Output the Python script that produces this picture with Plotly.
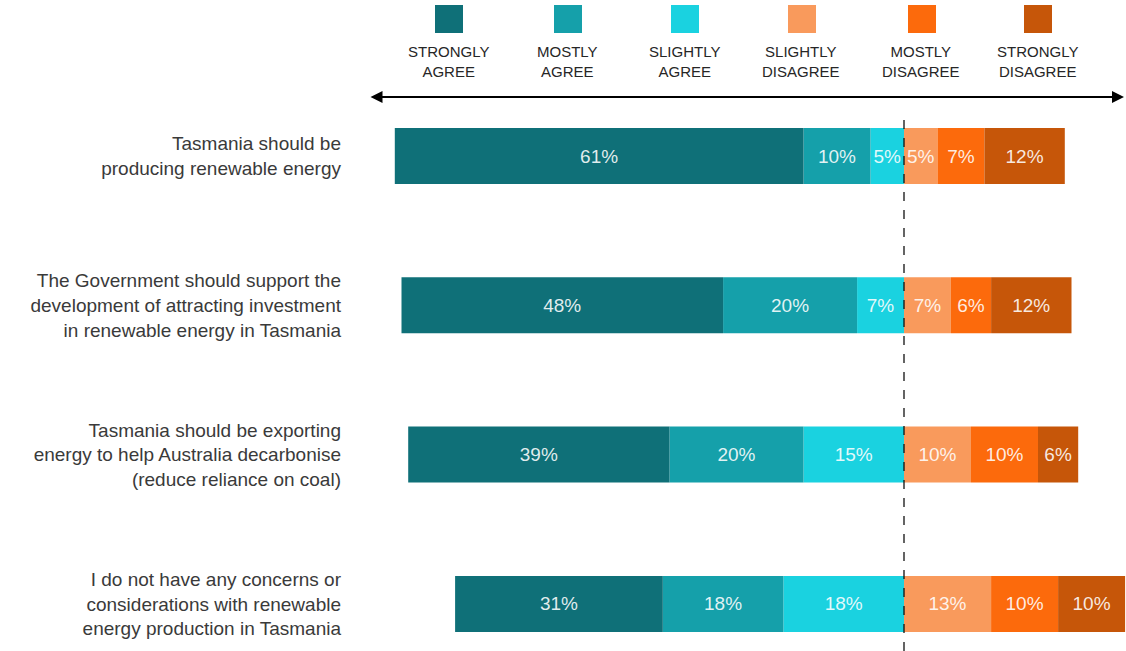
import plotly.graph_objects as go

statements = [
    "Tasmania should be<br>producing renewable energy",
    "The Government should support the<br>development of attracting investment<br>in renewable energy in Tasmania",
    "Tasmania should be exporting<br>energy to help Australia decarbonise<br>(reduce reliance on coal)",
    "I do not have any concerns or<br>considerations with renewable<br>energy production in Tasmania",
]
categories = ["STRONGLY<br>AGREE", "MOSTLY<br>AGREE", "SLIGHTLY<br>AGREE",
              "SLIGHTLY<br>DISAGREE", "MOSTLY<br>DISAGREE", "STRONGLY<br>DISAGREE"]
strongly_agree = [61, 48, 39, 31]
mostly_agree = [10, 20, 20, 18]
slightly_agree = [5, 7, 15, 18]
slightly_disagree = [5, 7, 10, 13]
mostly_disagree = [7, 6, 10, 10]
strongly_disagree = [12, 12, 6, 10]

colors = ["#0F7078", "#15A0AA", "#1AD2E0", "#F99A5C", "#FC6A0C", "#C65609"]

W, H = 1126, 651
ML, MR, MT, MB = 360, 0, 110, 0
PW, PH = W - ML - MR, H - MT - MB
CENTER_PX = 904
SCALE = 6.7  # px per percent
xrange = [-(CENTER_PX - ML) / SCALE, (W - MR - CENTER_PX) / SCALE]

ypos = list(range(len(statements)))
ROW_PX = 149.3
row1_px = 156
y_top = -(row1_px - MT) / ROW_PX
y_bot = y_top + PH / ROW_PX

def px2paper_x(px):
    return (px - ML) / PW

def px2paper_y(py):
    return (H - MB - py) / PH

FONT = "Liberation Sans, Arial, sans-serif"

fig = go.Figure()

text_font = dict(family=FONT, size=19, color="rgba(255,255,255,0.88)")

series = [
    ("SLIGHTLY AGREE", slightly_agree, colors[2], -1),
    ("MOSTLY AGREE", mostly_agree, colors[1], -1),
    ("STRONGLY AGREE", strongly_agree, colors[0], -1),
    ("SLIGHTLY DISAGREE", slightly_disagree, colors[3], 1),
    ("MOSTLY DISAGREE", mostly_disagree, colors[4], 1),
    ("STRONGLY DISAGREE", strongly_disagree, colors[5], 1),
]
for name, vals, col, sign in series:
    fig.add_trace(go.Bar(
        x=[sign * v for v in vals], y=ypos, orientation="h", name=name,
        marker=dict(color=col, line=dict(width=0)),
        text=[f"{v}%" for v in vals], textposition="inside",
        insidetextanchor="middle", textangle=0, constraintext="none",
        textfont=text_font, width=0.375, showlegend=False,
        hoverinfo="skip",
    ))

shapes = []
annotations = []

# dashed centre line
shapes.append(dict(type="line", xref="x", yref="paper", x0=0, x1=0,
                   y0=0, y1=px2paper_y(114), layer="above",
                   line=dict(color="#111111", width=1.3, dash="dash")))

# custom legend: squares above two-line labels
legend_centers = [448, 567, 684, 801, 921, 1037]
for cx, col, lab in zip(legend_centers, colors, categories):
    shapes.append(dict(type="rect", xref="paper", yref="paper",
                       x0=px2paper_x(cx - 13), x1=px2paper_x(cx + 15),
                       y0=px2paper_y(33), y1=px2paper_y(5),
                       fillcolor=col, line=dict(width=0)))
    annotations.append(dict(xref="paper", yref="paper", x=px2paper_x(cx),
                            y=px2paper_y(62), text=lab, showarrow=False,
                            xanchor="center", yanchor="middle", align="center",
                            font=dict(family=FONT, size=15, color="#262626")))

# double-headed arrow
annotations.append(dict(xref="paper", yref="paper", x=px2paper_x(1124),
                        y=px2paper_y(97), ax=-(1124 - 369), ay=0,
                        axref="pixel", ayref="pixel", text="", showarrow=True,
                        arrowhead=2, arrowside="end+start", arrowsize=1.2,
                        arrowwidth=2, arrowcolor="#000000"))

fig.update_layout(
    width=W, height=H,
    margin=dict(l=ML, r=MR, t=MT, b=MB, pad=0),
    barmode="relative",
    paper_bgcolor="white", plot_bgcolor="white",
    shapes=shapes, annotations=annotations,
    xaxis=dict(range=xrange, visible=False, fixedrange=True),
    yaxis=dict(range=[y_bot, y_top], tickmode="array", tickvals=ypos,
               ticktext=statements, showgrid=False, zeroline=False,
               showline=False, ticks="", ticklabelstandoff=18,
               tickfont=dict(family=FONT, size=19, color="#3a3a3a")),
    font=dict(family=FONT),
)

fig.write_html("out.html")
